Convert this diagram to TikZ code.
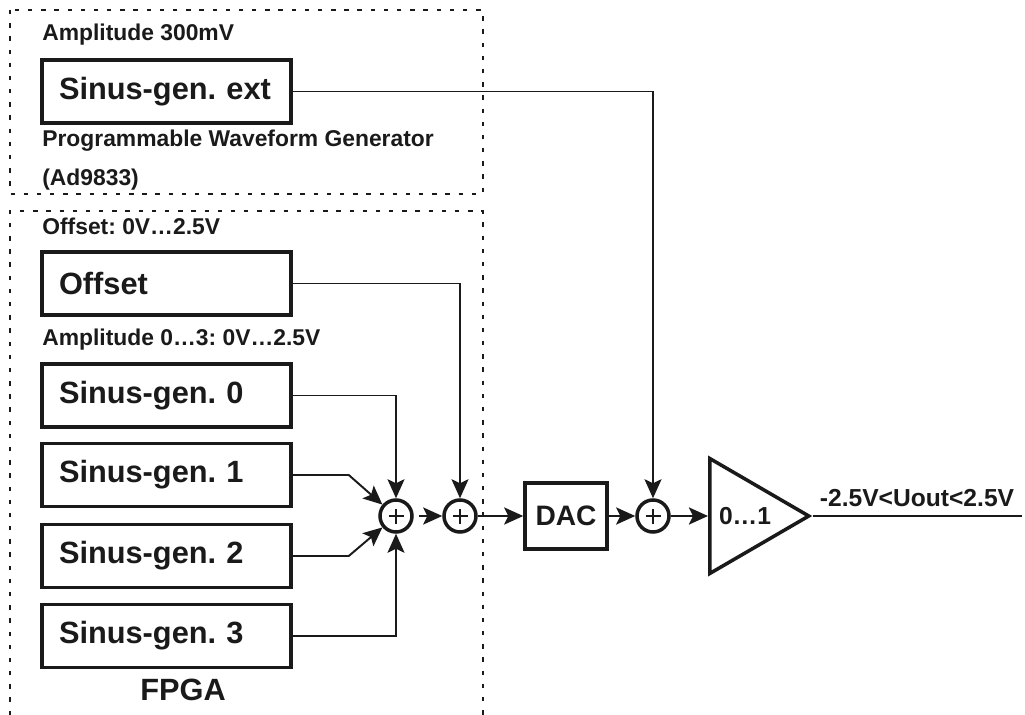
\documentclass[tikz,border=0pt]{standalone}
\usepackage{fontspec}
\setmainfont{Liberation Sans}
\usepackage{xcolor}
\usepackage{tikz}
\usetikzlibrary{positioning, shapes.geometric, arrows.meta, calc}
\definecolor{bdInk}{HTML}{1A1A1A}
\frenchspacing
\tikzset{
  genbox/.style={
    rectangle, draw=bdInk, line width=2pt,
    text width=4.3cm, inner xsep=0.34cm, inner ysep=0pt,
    minimum height=1.26cm,
    align=left, text=bdInk,
    font=\fontsize{17.5}{20}\selectfont\bfseries
  },
  dacbox/.style={
    rectangle, draw=bdInk, line width=2pt,
    minimum width=1.64cm, minimum height=1.32cm, inner sep=0pt,
    text=bdInk, font=\fontsize{16}{19}\selectfont\bfseries
  },
  adder/.style={
    circle, draw=bdInk, line width=2pt,
    minimum size=0.64cm, inner sep=0pt,
    path picture={
      \draw[bdInk, line width=0.6pt]
        ($(path picture bounding box.center)+(-0.15,0)$) -- ++(0.3,0)
        ($(path picture bounding box.center)+(0,-0.15)$) -- ++(0,0.3);
    }
  },
  ampbox/.style={
    isosceles triangle, isosceles triangle stretches,
    draw=bdInk, line width=2pt,
    minimum width=2.3cm, minimum height=1.98cm, inner sep=0pt
  },
  frame/.style={draw=bdInk, line width=1.5pt, dash pattern=on 2.5pt off 5pt},
  note/.style={font=\fontsize{13}{15}\selectfont\bfseries, text=bdInk, inner sep=0pt, anchor=west},
  headtip/.tip={Stealth[length=0.38cm, width=0.34cm, inset=0.08cm]},
  wire/.style={draw=bdInk, line width=1.1pt},
  feed/.style={wire, -headtip},
  chain/.style={draw=bdInk, line width=1.5pt, -headtip}
}

\begin{document}
\begin{tikzpicture}
  \useasboundingbox (0,0) rectangle (20.5,-14.3);
  % dotted frames
  \draw[frame] (0.2,-0.2) rectangle (9.66,-3.88);
  \draw[frame] (0.2,-14.3) |- (9.66,-4.22) -- (9.66,-14.3);

  \node[note] (lblext) at (0.84,-0.7) {Amplitude 300mV};
  \node[genbox] (extgen) at (3.33,-1.83) {Sinus-gen. ext};
  \node[note] (lblpwg) at (0.84,-2.82) {Programmable Waveform Generator};
  \node[note] (lblchip) at (0.84,-3.6) {(Ad9833)};

  \node[note] (lbloffs) at (0.84,-4.52) {Offset: 0V…2.5V};
  \node[genbox] (offs) at (3.33,-5.67) {Offset};
  \node[note] (lblamp) at (0.84,-6.8) {Amplitude 0…3: 0V…2.5V};
  \node[genbox] (gen0) at (3.33,-7.91) {Sinus-gen. 0};
  \node[genbox] (gen1) at (3.33,-9.5) {Sinus-gen. 1};
  \node[genbox] (gen2) at (3.33,-11.12) {Sinus-gen. 2};
  \node[genbox] (gen3) at (3.33,-12.72) {Sinus-gen. 3};
  \node[font=\fontsize{17.5}{20}\selectfont\bfseries, text=bdInk] (fpga) at (3.66,-13.8) {FPGA};

  \node[adder] (add1) at (7.92,-10.32) {};
  \node[adder] (add2) at (9.2,-10.32) {};
  \node[dacbox] (dac) at (11.32,-10.32) {DAC};
  \node[adder] (add3) at (13.06,-10.32) {};
  \node[ampbox, anchor=west] (amp) at (14.16,-10.32) {};
  \node[font=\fontsize{14}{16}\selectfont\bfseries, text=bdInk] (gain) at (14.9,-10.32) {0…1};
  \coordinate (outend) at (20.44,-10.32);
  \node[font=\fontsize{14}{16}\selectfont\bfseries, text=bdInk] (lblout) at (18.34,-9.96) {-2.5V<Uout<2.5V};

  \draw[feed] (extgen.east) -| (add3.north);
  \draw[feed] (offs.east) -| (add2.north);
  \draw[feed] (gen0.east) -| (add1.north);
  \draw[feed] (gen3.east) -| (add1.south);
  \draw[feed] (gen1.east) -- ++(1.12,0) -- (add1.140);
  \draw[feed] (gen2.east) -- ++(1.12,0) -- (add1.220);
  \draw[chain, shorten <=3pt] (add1) -- (add2);
  \draw[chain] (add2) -- (dac);
  \draw[chain] (dac) -- (add3);
  \draw[chain] (add3) -- (amp.west);
  \draw[wire] (amp.apex) -- (outend);
\end{tikzpicture}
\end{document}
